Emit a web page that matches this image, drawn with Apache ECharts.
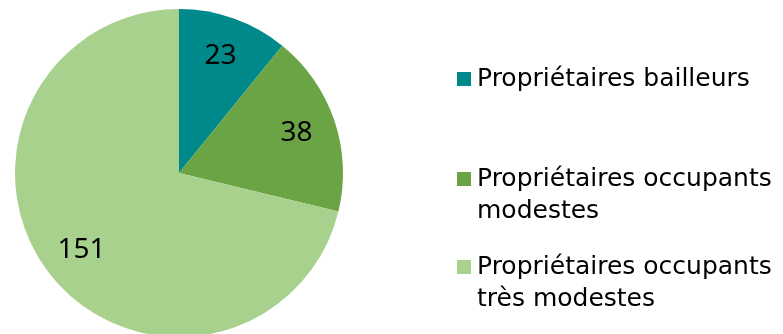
<!DOCTYPE html>
<html><head><meta charset="utf-8">
<script src="https://cdn.jsdelivr.net/npm/echarts@6/dist/echarts.min.js"></script>
<style>html,body{margin:0;padding:0;background:#fff}#c{width:783px;height:334px}</style>
</head><body><div id="c"></div>
<script>
const categories = ['Propriétaires bailleurs', 'Propriétaires occupants modestes', 'Propriétaires occupants très modestes'];
const legendLines = ['Propriétaires bailleurs', 'Propriétaires occupants\nmodestes', 'Propriétaires occupants\ntrès modestes'];
const values = [23, 38, 151];
const colors = ['#00898a', '#6aa444', '#a9d18e'];

const data = categories.map((n, i) => ({ name: n, value: values[i], itemStyle: { color: colors[i] } }));
const font = '"Noto Sans", sans-serif';
const legendFont = '"DejaVu Sans", sans-serif';
const legendTops = [58, 126, 214];
const legends = categories.map((n, i) => ({
  data: [n], left: 452, top: legendTops[i], orient: 'vertical',
  icon: 'rect', itemWidth: 14, itemHeight: 14,
  selectedMode: false,
  formatter: () => i === 0 ? legendLines[0] : '\n' + legendLines[i],
  textStyle: { fontFamily: legendFont, fontSize: 25, color: '#000', lineHeight: 32, padding: [0, 0, 0, 1] }
}));
const chart = echarts.init(document.getElementById('c'));
chart.setOption({
  animation: false,
  legend: legends,
  series: [{
    type: 'pie', center: [179, 173], radius: [0, 164], startAngle: 90, clockwise: true,
    data: data, label: { show: false }, labelLine: { show: false }, silent: true
  }, {
    type: 'pie', center: [179, 173], radius: [78, 164], startAngle: 90, clockwise: true,
    data: data.map(d => ({ name: d.name, value: d.value, itemStyle: { color: 'rgba(0,0,0,0)' } })),
    silent: true,
    label: { show: true, position: 'inside', formatter: '{c}', fontFamily: font, fontSize: 28, color: '#000' },
    labelLine: { show: false }
  }]
});
</script></body></html>
